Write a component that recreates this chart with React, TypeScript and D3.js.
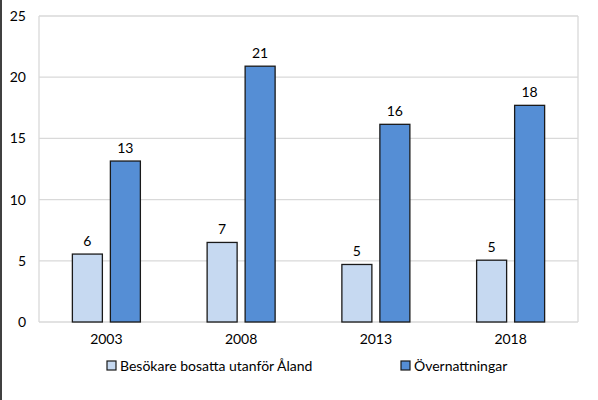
import React from "react";
import * as d3 from "d3";

const categories = ["2003", "2008", "2013", "2018"];
const seriesNames = ["Besökare bosatta utanför Åland", "Övernattningar"];
const visitors = [5.55, 6.5, 4.7, 5.05];
const overnights = [13.15, 20.9, 16.15, 17.7];
const visitorLabels = ["6", "7", "5", "5"];
const overnightLabels = ["13", "21", "16", "18"];
const yTicks = [0, 5, 10, 15, 20, 25];

const W = 598, H = 400;
const left = 39, right = 578, top = 16, bottom = 322;
const colors = ["#c6d9f1", "#558ed5"];
const font = "Lato, 'Open Sans', sans-serif";

export default function App() {
  const x = d3.scaleBand<string>().domain(categories).range([left, right]);
  const y = d3.scaleLinear().domain([0, 25]).range([bottom, top]);
  const barW = 30, gap = 8;
  const series = [visitors, overnights];
  const labels = [visitorLabels, overnightLabels];
  return (
    <svg width={W} height={H} style={{ position: "absolute", left: 0, top: 0, background: "#fff" }} fontFamily={font}>
      <rect x={0} y={0} width={W} height={H} fill="#fff" />
      <line x1={1} x2={1} y1={0} y2={H} stroke="#404040" strokeWidth={2} />
      {yTicks.map((t) => (
        <g key={t}>
          <line x1={left} x2={right} y1={y(t)} y2={y(t)} stroke="#d9d9d9" strokeWidth={1.3} />
          <text x={26} y={y(t)} dy="0.35em" textAnchor="end" fontSize={14} fill="#000">{t}</text>
        </g>
      ))}
      <line x1={left} x2={left} y1={top} y2={bottom} stroke="#d9d9d9" strokeWidth={1.3} />
      <line x1={right} x2={right} y1={top} y2={bottom} stroke="#d9d9d9" strokeWidth={1.3} />
      {categories.map((c, i) => {
        const cx = (x(c) as number) + x.bandwidth() / 2;
        return (
          <g key={c}>
            {series.map((s, j) => {
              const bx = j === 0 ? cx - gap / 2 - barW : cx + gap / 2;
              return (
                <g key={j}>
                  <rect x={bx} y={y(s[i])} width={barW} height={y(0) - y(s[i])} fill={colors[j]} stroke="#1a1a1a" strokeWidth={1.3} />
                  <text x={bx + barW / 2} y={y(s[i]) - 8} textAnchor="middle" fontSize={14} fill="#000">{labels[j][i]}</text>
                </g>
              );
            })}
            <text x={cx} y={339} dy="0.35em" textAnchor="middle" fontSize={14} fill="#000">{c}</text>
          </g>
        );
      })}
      {seriesNames.map((n, j) => {
        const lx = j === 0 ? 107 : 401;
        return (
          <g key={n}>
            <rect x={lx} y={361} width={9} height={9} fill={colors[j]} stroke="#1a1a1a" strokeWidth={1.2} />
            <text x={lx + 13} y={366} dy="0.35em" fontSize={14} fill="#000">{n}</text>
          </g>
        );
      })}
    </svg>
  );
}
